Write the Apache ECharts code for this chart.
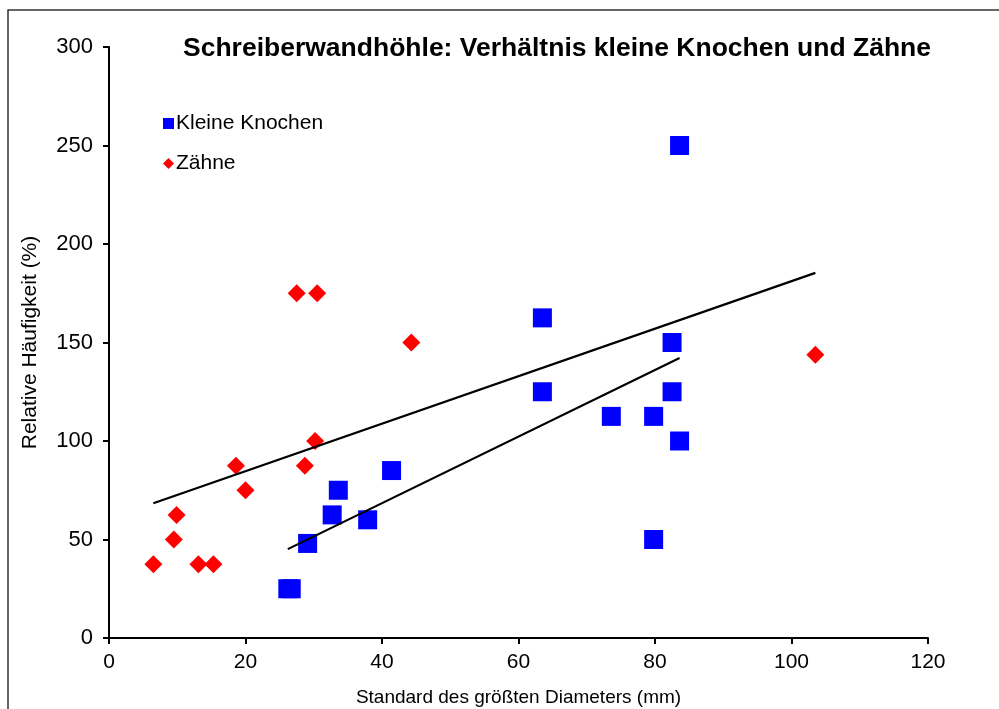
<!DOCTYPE html>
<html>
<head>
<meta charset="utf-8">
<script src="https://cdn.jsdelivr.net/npm/echarts@6/dist/echarts.min.js"></script>
<style>
  html, body { margin: 0; padding: 0; background: #fff; }
  #chart { width: 999px; height: 709px; }
</style>
</head>
<body>
<div id="chart"></div>
<script>
// Kleine Knochen (blue squares)
const knochenX = [26.2, 26.7, 29.1, 32.7, 33.6, 37.9, 41.4, 63.5, 63.5, 73.6, 79.8, 79.8, 82.5, 82.5, 83.6, 83.6];
const knochenY = [25, 25, 48, 62.5, 75, 60, 85, 162.5, 125, 112.5, 112.5, 50, 150, 125, 100, 250];
// Zähne (red diamonds)
const zaehneX = [6.5, 9.5, 9.9, 13.1, 15.3, 18.6, 20.0, 27.5, 28.7, 30.2, 30.5, 44.3, 103.5];
const zaehneY = [37.5, 50, 62.5, 37.5, 37.5, 87.5, 75, 175, 87.5, 100, 175, 150, 143.75];

const xTicks = [0, 20, 40, 60, 80, 100, 120];
const yTicks = [0, 50, 100, 150, 200, 250, 300];

function pairs(xs, ys) { return xs.map((x, i) => [x, ys[i]]); }

// linear trend line (least squares) across the data range
function trend(xs, ys) {
    const n = xs.length;
    const mx = xs.reduce((a, b) => a + b, 0) / n;
    const my = ys.reduce((a, b) => a + b, 0) / n;
    let sxy = 0, sxx = 0;
    for (let i = 0; i < n; i++) {
        sxy += (xs[i] - mx) * (ys[i] - my);
        sxx += (xs[i] - mx) * (xs[i] - mx);
    }
    const b = sxy / sxx, a = my - b * mx;
    const x0 = Math.min(...xs), x1 = Math.max(...xs);
    return [[x0, a + b * x0], [x1, a + b * x1]];
}

const font = 'Liberation Sans, Arial, sans-serif';
const myChart = echarts.init(document.getElementById('chart'));
myChart.setOption({
    animation: false,
    backgroundColor: '#fff',
    title: {
        text: 'Schreiberwandhöhle: Verhältnis kleine Knochen und Zähne',
        left: 552, top: 30, textAlign: 'center',
        textStyle: { fontFamily: font, fontSize: 26.5, fontWeight: 'bold', color: '#000' }
    },
    legend: {
        orient: 'vertical', left: 158, top: 108, itemGap: 19,
        itemWidth: 11, itemHeight: 11,
        textStyle: { fontFamily: font, fontSize: 21, color: '#000', padding: [0, 0, 0, -3] },
        data: [
            { name: 'Kleine Knochen', icon: 'rect' },
            { name: 'Zähne', icon: 'diamond' }
        ]
    },
    graphic: [{
        type: 'rect', silent: true,
        shape: { x: 8, y: 10, width: 1100, height: 800 },
        style: { fill: 'none', stroke: '#333', lineWidth: 1.5 }
    }],
    grid: { left: 109, top: 47, right: 71, bottom: 71, containLabel: false, outerBoundsMode: 'none' },
    xAxis: {
        type: 'value', min: 0, max: 120, interval: 20,
        name: 'Standard des größten Diameters (mm)',
        nameLocation: 'middle', nameGap: 50,
        nameTextStyle: { fontFamily: font, fontSize: 19, color: '#000' },
        axisLine: { onZero: false, lineStyle: { color: '#000', width: 2 } },
        axisTick: { length: 6, lineStyle: { color: '#000', width: 2 } },
        axisLabel: { fontFamily: font, fontSize: 21, color: '#000', margin: 14,
            formatter: v => xTicks.includes(v) ? String(v) : '' },
        splitLine: { show: false }
    },
    yAxis: {
        type: 'value', min: 0, max: 300, interval: 50,
        name: 'Relative Häufigkeit (%)',
        nameLocation: 'middle', nameGap: 68, nameRotate: 90,
        nameTextStyle: { fontFamily: font, fontSize: 21, color: '#000' },
        axisLine: { onZero: false, lineStyle: { color: '#000', width: 2 } },
        axisTick: { length: 6, lineStyle: { color: '#000', width: 2 } },
        axisLabel: { fontFamily: font, fontSize: 22, color: '#000', margin: 16,
            formatter: v => yTicks.includes(v) ? String(v) : '' },
        splitLine: { show: false }
    },
    series: [
        {
            name: 'Kleine Knochen', type: 'scatter', symbol: 'rect', symbolSize: 19,
            itemStyle: { color: '#0000ff', opacity: 1 }, data: pairs(knochenX, knochenY), z: 3
        },
        {
            name: 'Zähne', type: 'scatter', symbol: 'diamond', symbolSize: 18,
            itemStyle: { color: '#ff0000', opacity: 1 }, data: pairs(zaehneX, zaehneY), z: 3
        },
        {
            name: 'trendZaehne', type: 'line', data: trend(zaehneX, zaehneY), showSymbol: false,
            lineStyle: { color: '#000', width: 2.2 }, z: 4, silent: true
        },
        {
            name: 'trendKnochen', type: 'line', data: trend(knochenX, knochenY), showSymbol: false,
            lineStyle: { color: '#000', width: 2.2 }, z: 4, silent: true
        }
    ]
});
</script>
</body>
</html>
